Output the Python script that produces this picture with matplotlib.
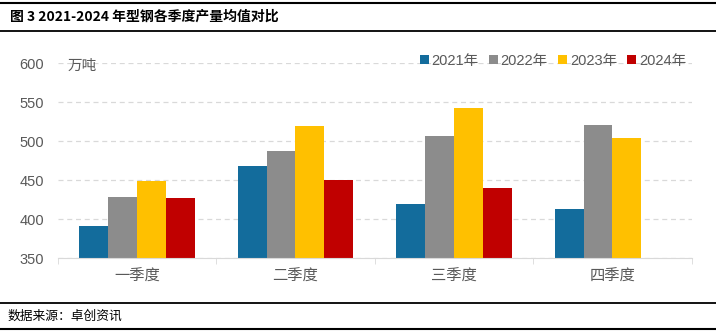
import matplotlib.pyplot as plt
import numpy as np

plt.rcParams['font.family'] = ['Liberation Sans', 'Noto Sans CJK SC']

# data (万吨)
quarters = ['一季度', '二季度', '三季度', '四季度']
years = ['2021年', '2022年', '2023年', '2024年']
v2021 = [391, 468, 419, 413]
v2022 = [428, 487, 507, 521]
v2023 = [449, 520, 543, 504]
v2024 = [427, 450, 440, np.nan]
series = [v2021, v2022, v2023, v2024]
colors = ['#136C9C', '#8C8C8C', '#FFC000', '#C00000']
yticks = [350, 400, 450, 500, 550, 600]

txt = '#595959'
fig = plt.figure(figsize=(7.16, 3.34), dpi=100)
ax = fig.add_axes([0.0806, 0.2275, 0.8855, 0.583])

x = np.arange(len(quarters))
w = 1 / 5.5
for i, (vals, c, lab) in enumerate(zip(series, colors, years)):
    ax.bar(x + (i - 1.5) * w, np.array(vals, dtype=float) - 350, bottom=350,
           width=w, color=c, label=lab, zorder=3)

ax.set_xlim(-0.5, 3.5)
ax.set_ylim(350, 600)
ax.set_yticks(yticks)
ax.set_yticklabels([str(t) for t in yticks], color=txt, fontsize=10.5)
ax.grid(axis='y', color='#d9d9d9', linestyle=(0, (4, 3)), linewidth=0.9, zorder=0)
ax.set_xticks(x)
ax.set_xticklabels(quarters, color=txt, fontsize=11)
ax.set_xticks(np.arange(-0.5, 4, 1), minor=True)
ax.tick_params(axis='x', which='major', length=0, pad=8)
ax.tick_params(axis='x', which='minor', length=4, color='#d9d9d9')
ax.tick_params(axis='y', length=0, pad=10)
for s in ['top', 'right', 'left']:
    ax.spines[s].set_visible(False)
ax.spines['bottom'].set_color('#d9d9d9')
ax.spines['bottom'].set_zorder(4)

ax.text(68 / 716, 1 - 66 / 334, '万吨', transform=fig.transFigure, color=txt,
        fontsize=10.5, va='center', ha='left')

ax.legend(loc='center right', bbox_to_anchor=(692 / 716, 1 - 61 / 334),
          bbox_transform=fig.transFigure, ncol=4, frameon=False,
          fontsize=10.5, labelcolor=txt, handlelength=0.6, handleheight=0.6,
          handletextpad=0.2, columnspacing=0.7, borderaxespad=0)

# title and footer with rules
for yy, lw in [(3, 1.5), (31, 1.3), (303, 1.3), (329, 1.5)]:
    fig.add_artist(plt.Line2D([0, 1], [1 - yy / 334] * 2, color='black', lw=lw))
fig.text(10 / 716, 1 - 17 / 334, '图 3 2021-2024 年型钢各季度产量均值对比',
         fontsize=10, fontweight='bold', va='center', ha='left',
         family=['Noto Sans CJK SC'])
fig.text(8 / 716, 1 - 316 / 334, '数据来源：卓创资讯', fontsize=9.2,
         va='center', ha='left', family=['Noto Sans CJK SC'])

fig.savefig('out.png', dpi=100)
